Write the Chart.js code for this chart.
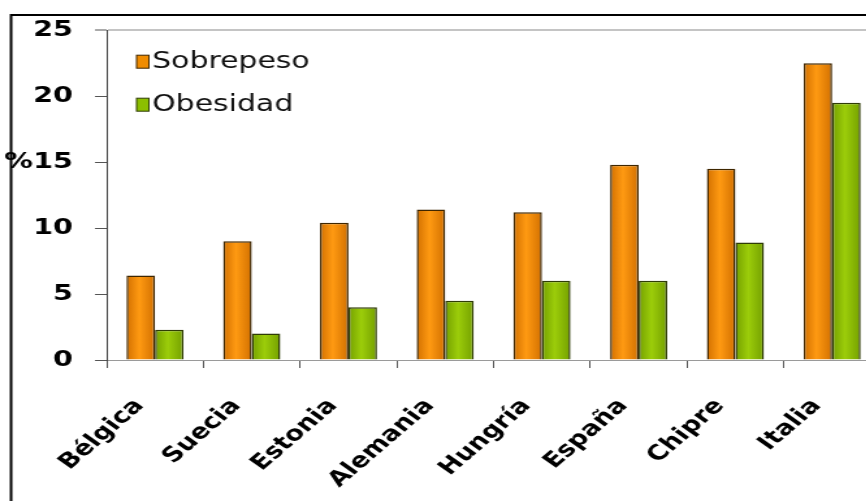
<!DOCTYPE html>
<html>
<head>
<meta charset="utf-8">
<script src="https://cdn.jsdelivr.net/npm/chart.js@4/dist/chart.umd.min.js"></script>
<style>
  html, body { margin: 0; padding: 0; background: #fff; overflow: hidden; width: 866px; height: 501px; }
  #wrap { position: absolute; left: 0; top: 0; }
  canvas { display: block; }
</style>
</head>
<body>
<div id="wrap">
  <!-- drawing buffer is stretched horizontally by CSS (692 -> 899.6 px) -->
  <canvas id="c" width="692" height="501" style="width:899.6px;height:501px"></canvas>
</div>
<script>
// Sobrepeso y obesidad por país (%)
const paises = ['Bélgica', 'Suecia', 'Estonia', 'Alemania', 'Hungría', 'España', 'Chipre', 'Italia'];
const sobrepeso = [6.4, 9.0, 10.4, 11.4, 11.2, 14.8, 14.5, 22.5];
const obesidad = [2.3, 2.0, 4.0, 4.5, 6.0, 6.0, 8.9, 19.5];
const yTicks = [0, 5, 10, 15, 20, 25];
const yTickLabels = ['0', '5', '10', '%15', '20', '25'];
const serieNombres = ['Sobrepeso', 'Obesidad'];

const CAT_PCT = 0.59;

// horizontal shading across each bar: darker edges, brighter middle
function barGradient(edge, mid) {
  return (ctx) => {
    const chart = ctx.chart;
    const xs = chart.scales.x;
    if (!xs || !chart.chartArea || ctx.dataIndex === undefined) return mid;
    const center = xs.getPixelForValue(ctx.dataIndex);
    const bw = xs.width / paises.length * CAT_PCT / 2;
    const x0 = ctx.datasetIndex === 0 ? center - bw : center;
    const g = chart.ctx.createLinearGradient(x0, 0, x0 + bw, 0);
    g.addColorStop(0, edge);
    g.addColorStop(0.45, mid);
    g.addColorStop(1, edge);
    return g;
  };
}

const framePlugin = {
  id: 'marco',
  afterDraw(chart) {
    const c = chart.ctx;
    c.save();
    c.strokeStyle = '#000';
    c.lineWidth = 2;
    c.beginPath();
    c.moveTo(8.5, chart.height);
    c.lineTo(8.5, 15);
    c.lineTo(chart.width, 15);
    c.stroke();
    c.restore();
  }
};

const legendPlugin = {
  id: 'leyenda',
  afterDatasetsDraw(chart) {
    const c = chart.ctx;
    const { left, top } = chart.chartArea;
    chart.data.datasets.forEach((ds, i) => {
      const y = top + 31 + i * 43;
      c.save();
      c.fillStyle = ds.legendColor;
      c.strokeStyle = ds.borderColor;
      c.lineWidth = 1;
      c.fillRect(left + 23, y - 6, 9.5, 13);
      c.strokeRect(left + 23, y - 6, 9.5, 13);
      c.font = '23px "DejaVu Sans"';
      c.fillStyle = '#111';
      c.textBaseline = 'middle';
      c.textAlign = 'left';
      c.fillText(ds.label, left + 35, y + 1);
      c.restore();
    });
  }
};

new Chart(document.getElementById('c'), {
  type: 'bar',
  data: {
    labels: paises,
    datasets: [
      {
        label: serieNombres[0],
        data: sobrepeso,
        backgroundColor: barGradient('#d27000', '#ff9a12'),
        legendColor: '#f08c00',
        borderColor: '#3e2600',
        borderWidth: 1.5,
        categoryPercentage: CAT_PCT,
        barPercentage: 1
      },
      {
        label: serieNombres[1],
        data: obesidad,
        backgroundColor: barGradient('#74a000', '#9ccd0a'),
        legendColor: '#8cbf00',
        borderColor: '#2f3c06',
        borderWidth: 1.5,
        categoryPercentage: CAT_PCT,
        barPercentage: 1
      }
    ]
  },
  options: {
    responsive: false,
    devicePixelRatio: 1,
    animation: false,
    layout: { padding: { left: 0, right: 15, top: 30, bottom: 0 } },
    plugins: {
      legend: { display: false },
      tooltip: { enabled: false }
    },
    scales: {
      x: {
        afterFit(scale) { scale.height = 141; },
        border: { display: true, color: '#9a9a9a', width: 1 },
        grid: {
          offset: true,
          drawOnChartArea: false,
          drawTicks: true,
          tickLength: 8,
          color: '#555'
        },
        ticks: {
          color: '#000',
          font: { family: '"DejaVu Sans"', weight: 'bold', size: 21 },
          minRotation: 48,
          maxRotation: 48,
          autoSkip: false,
          padding: 26,
          labelOffset: -12
        }
      },
      y: {
        min: 0,
        max: 25,
        afterFit(scale) { scale.width = 82; },
        afterBuildTicks(scale) { scale.ticks = yTicks.map(v => ({ value: v })); },
        border: { display: true, color: '#444', width: 1 },
        grid: {
          drawOnChartArea: true,
          drawTicks: true,
          tickLength: 9,
          tickColor: '#555',
          tickWidth: 1,
          lineWidth: (c) => (c.tick && c.tick.value === 25 ? 2 : 1),
          color: (c) => (c.tick && c.tick.value === 25 ? '#c4c4c4' : 'rgba(0,0,0,0)')
        },
        ticks: {
          color: '#000',
          font: { family: '"DejaVu Sans"', weight: 'bold', size: 22 },
          padding: 17,
          callback: (v) => yTickLabels[yTicks.indexOf(v)]
        }
      }
    }
  },
  plugins: [legendPlugin, framePlugin]
});
</script>
</body>
</html>
